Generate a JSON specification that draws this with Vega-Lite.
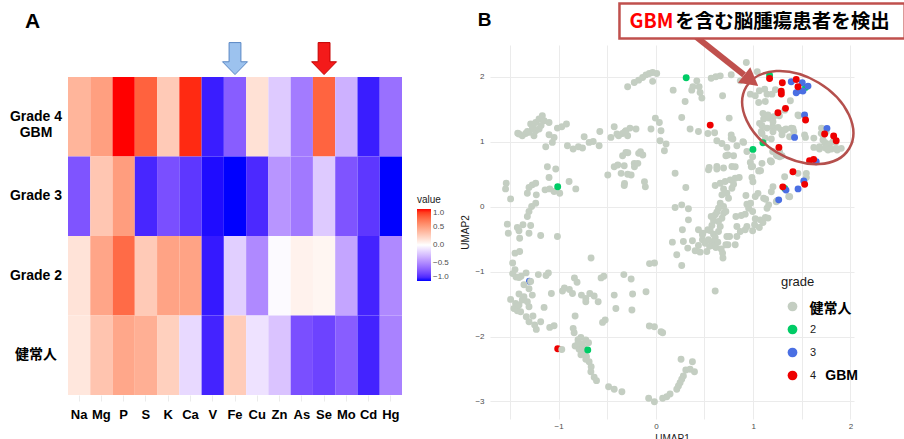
{
  "$schema": "https://vega.github.io/schema/vega-lite/v6.json",
  "background": "white",
  "padding": {"left": 9, "top": 2, "right": 0, "bottom": 0},
  "config": {"view": {"stroke": null}, "font": "Liberation Sans"},
  "datasets": {
    "heat": [
      {"grade": "Grade 4 GBM", "element": "Na", "value": 0.39},
      {"grade": "Grade 4 GBM", "element": "Mg", "value": 0.5},
      {"grade": "Grade 4 GBM", "element": "P", "value": 1.0},
      {"grade": "Grade 4 GBM", "element": "S", "value": 0.78},
      {"grade": "Grade 4 GBM", "element": "K", "value": 0.28},
      {"grade": "Grade 4 GBM", "element": "Ca", "value": 0.95},
      {"grade": "Grade 4 GBM", "element": "V", "value": -0.94},
      {"grade": "Grade 4 GBM", "element": "Fe", "value": -0.69},
      {"grade": "Grade 4 GBM", "element": "Cu", "value": 0.16},
      {"grade": "Grade 4 GBM", "element": "Zn", "value": -0.22},
      {"grade": "Grade 4 GBM", "element": "As", "value": -0.56},
      {"grade": "Grade 4 GBM", "element": "Se", "value": 0.77},
      {"grade": "Grade 4 GBM", "element": "Mo", "value": -0.33},
      {"grade": "Grade 4 GBM", "element": "Cd", "value": -0.94},
      {"grade": "Grade 4 GBM", "element": "Hg", "value": -0.61},
      {"grade": "Grade 3", "element": "Na", "value": -0.73},
      {"grade": "Grade 3", "element": "Mg", "value": 0.3},
      {"grade": "Grade 3", "element": "P", "value": 0.51},
      {"grade": "Grade 3", "element": "S", "value": -0.91},
      {"grade": "Grade 3", "element": "K", "value": -0.75},
      {"grade": "Grade 3", "element": "Ca", "value": -0.85},
      {"grade": "Grade 3", "element": "V", "value": -0.98},
      {"grade": "Grade 3", "element": "Fe", "value": -1.0},
      {"grade": "Grade 3", "element": "Cu", "value": -0.9},
      {"grade": "Grade 3", "element": "Zn", "value": -0.45},
      {"grade": "Grade 3", "element": "As", "value": -0.57},
      {"grade": "Grade 3", "element": "Se", "value": -0.22},
      {"grade": "Grade 3", "element": "Mo", "value": -0.73},
      {"grade": "Grade 3", "element": "Cd", "value": -0.85},
      {"grade": "Grade 3", "element": "Hg", "value": -1.0},
      {"grade": "Grade 2", "element": "Na", "value": 0.15},
      {"grade": "Grade 2", "element": "Mg", "value": 0.47},
      {"grade": "Grade 2", "element": "P", "value": 0.74},
      {"grade": "Grade 2", "element": "S", "value": 0.28},
      {"grade": "Grade 2", "element": "K", "value": 0.48},
      {"grade": "Grade 2", "element": "Ca", "value": 0.48},
      {"grade": "Grade 2", "element": "V", "value": -0.95},
      {"grade": "Grade 2", "element": "Fe", "value": -0.2},
      {"grade": "Grade 2", "element": "Cu", "value": -0.5},
      {"grade": "Grade 2", "element": "Zn", "value": -0.02},
      {"grade": "Grade 2", "element": "As", "value": 0.07},
      {"grade": "Grade 2", "element": "Se", "value": 0.05},
      {"grade": "Grade 2", "element": "Mo", "value": -0.38},
      {"grade": "Grade 2", "element": "Cd", "value": -0.92},
      {"grade": "Grade 2", "element": "Hg", "value": -0.5},
      {"grade": "健常人", "element": "Na", "value": 0.13},
      {"grade": "健常人", "element": "Mg", "value": 0.31},
      {"grade": "健常人", "element": "P", "value": 0.46},
      {"grade": "健常人", "element": "S", "value": 0.42},
      {"grade": "健常人", "element": "K", "value": 0.25},
      {"grade": "健常人", "element": "Ca", "value": -0.16},
      {"grade": "健常人", "element": "V", "value": -0.92},
      {"grade": "健常人", "element": "Fe", "value": 0.27},
      {"grade": "健常人", "element": "Cu", "value": -0.12},
      {"grade": "健常人", "element": "Zn", "value": -0.25},
      {"grade": "健常人", "element": "As", "value": -0.75},
      {"grade": "健常人", "element": "Se", "value": -0.8},
      {"grade": "健常人", "element": "Mo", "value": -0.69},
      {"grade": "健常人", "element": "Cd", "value": -0.92},
      {"grade": "健常人", "element": "Hg", "value": -0.53}
    ],
    "umap": [
      {"u1": -1.009, "u2": -2.187, "grade": "4"},
      {"u1": -1.3, "u2": -1.148, "grade": "3"},
      {"u1": -0.29, "u2": 1.846, "grade": "健常人"},
      {"u1": -0.222, "u2": 1.913, "grade": "健常人"},
      {"u1": -0.177, "u2": 1.949, "grade": "健常人"},
      {"u1": -0.136, "u2": 1.99, "grade": "健常人"},
      {"u1": -0.101, "u2": 2.03, "grade": "健常人"},
      {"u1": -0.067, "u2": 2.05, "grade": "健常人"},
      {"u1": -0.033, "u2": 2.067, "grade": "健常人"},
      {"u1": 0.009, "u2": 2.05, "grade": "健常人"},
      {"u1": -0.033, "u2": 1.93, "grade": "健常人"},
      {"u1": 0.178, "u2": 1.795, "grade": "健常人"},
      {"u1": -1.407, "u2": 1.118, "grade": "健常人"},
      {"u1": -1.373, "u2": 1.092, "grade": "健常人"},
      {"u1": -1.338, "u2": 1.128, "grade": "健常人"},
      {"u1": -1.304, "u2": 1.144, "grade": "健常人"},
      {"u1": -1.27, "u2": 1.195, "grade": "健常人"},
      {"u1": -1.287, "u2": 1.272, "grade": "健常人"},
      {"u1": -1.235, "u2": 1.297, "grade": "健常人"},
      {"u1": -1.201, "u2": 1.349, "grade": "健常人"},
      {"u1": -1.167, "u2": 1.4, "grade": "健常人"},
      {"u1": -1.149, "u2": 1.323, "grade": "健常人"},
      {"u1": -1.235, "u2": 1.169, "grade": "健常人"},
      {"u1": -1.253, "u2": 1.092, "grade": "健常人"},
      {"u1": -1.2, "u2": 1.195, "grade": "健常人"},
      {"u1": -1.098, "u2": 1.297, "grade": "健常人"},
      {"u1": -1.098, "u2": 1.108, "grade": "健常人"},
      {"u1": -1.046, "u2": 1.067, "grade": "健常人"},
      {"u1": -1.132, "u2": 0.923, "grade": "健常人"},
      {"u1": -1.064, "u2": 0.99, "grade": "健常人"},
      {"u1": -1.012, "u2": 1.21, "grade": "健常人"},
      {"u1": -0.967, "u2": 1.23, "grade": "健常人"},
      {"u1": -0.919, "u2": 1.272, "grade": "健常人"},
      {"u1": -1.42, "u2": 1.13, "grade": "健常人"},
      {"u1": -1.32, "u2": 1.16, "grade": "健常人"},
      {"u1": -1.26, "u2": 1.22, "grade": "健常人"},
      {"u1": -1.18, "u2": 1.25, "grade": "健常人"},
      {"u1": -0.909, "u2": 0.938, "grade": "健常人"},
      {"u1": -0.85, "u2": 0.887, "grade": "健常人"},
      {"u1": -0.796, "u2": 0.923, "grade": "健常人"},
      {"u1": -0.754, "u2": 0.903, "grade": "健常人"},
      {"u1": -0.737, "u2": 1.077, "grade": "健常人"},
      {"u1": -0.686, "u2": 0.99, "grade": "健常人"},
      {"u1": -0.644, "u2": 1.005, "grade": "健常人"},
      {"u1": -0.583, "u2": 0.938, "grade": "健常人"},
      {"u1": -0.576, "u2": 1.159, "grade": "健常人"},
      {"u1": -0.462, "u2": 1.067, "grade": "健常人"},
      {"u1": -0.428, "u2": 1.231, "grade": "健常人"},
      {"u1": -0.383, "u2": 1.092, "grade": "健常人"},
      {"u1": -0.342, "u2": 1.128, "grade": "健常人"},
      {"u1": -0.308, "u2": 1.169, "grade": "健常人"},
      {"u1": -0.266, "u2": 1.21, "grade": "健常人"},
      {"u1": -0.29, "u2": 1.092, "grade": "健常人"},
      {"u1": -0.204, "u2": 1.195, "grade": "健常人"},
      {"u1": -0.05, "u2": 1.195, "grade": "健常人"},
      {"u1": -0.005, "u2": 1.364, "grade": "健常人"},
      {"u1": 0.036, "u2": 1.297, "grade": "健常人"},
      {"u1": 0.053, "u2": 1.169, "grade": "健常人"},
      {"u1": 0.043, "u2": 1.015, "grade": "健常人"},
      {"u1": 0.105, "u2": 0.964, "grade": "健常人"},
      {"u1": 0.088, "u2": 0.862, "grade": "健常人"},
      {"u1": -0.4, "u2": 1.12, "grade": "健常人"},
      {"u1": -0.32, "u2": 1.15, "grade": "健常人"},
      {"u1": -0.342, "u2": 0.785, "grade": "健常人"},
      {"u1": -0.308, "u2": 0.836, "grade": "健常人"},
      {"u1": -0.177, "u2": 0.821, "grade": "健常人"},
      {"u1": -0.222, "u2": 0.667, "grade": "健常人"},
      {"u1": -0.428, "u2": 0.615, "grade": "健常人"},
      {"u1": -0.325, "u2": 0.631, "grade": "健常人"},
      {"u1": -1.115, "u2": 0.615, "grade": "健常人"},
      {"u1": -1.029, "u2": 0.579, "grade": "健常人"},
      {"u1": -0.494, "u2": 0.487, "grade": "健常人"},
      {"u1": -0.391, "u2": 0.641, "grade": "健常人"},
      {"u1": -0.357, "u2": 0.513, "grade": "健常人"},
      {"u1": -0.322, "u2": 0.359, "grade": "健常人"},
      {"u1": -0.254, "u2": 0.487, "grade": "健常人"},
      {"u1": -0.22, "u2": 0.615, "grade": "健常人"},
      {"u1": -0.185, "u2": 0.667, "grade": "健常人"},
      {"u1": -0.134, "u2": 0.795, "grade": "健常人"},
      {"u1": -0.117, "u2": 0.385, "grade": "健常人"},
      {"u1": -0.288, "u2": 0.831, "grade": "健常人"},
      {"u1": -0.158, "u2": 0.846, "grade": "健常人"},
      {"u1": -0.325, "u2": 0.326, "grade": "健常人"},
      {"u1": -0.108, "u2": 0.305, "grade": "健常人"},
      {"u1": -0.29, "u2": 0.5, "grade": "健常人"},
      {"u1": -1.098, "u2": 0.449, "grade": "健常人"},
      {"u1": -0.892, "u2": 0.387, "grade": "健常人"},
      {"u1": -0.823, "u2": 0.274, "grade": "健常人"},
      {"u1": -1.538, "u2": 0.362, "grade": "健常人"},
      {"u1": -1.545, "u2": 0.274, "grade": "健常人"},
      {"u1": -1.493, "u2": 0.12, "grade": "健常人"},
      {"u1": -1.304, "u2": 0.295, "grade": "健常人"},
      {"u1": -1.27, "u2": 0.336, "grade": "健常人"},
      {"u1": -1.235, "u2": 0.362, "grade": "健常人"},
      {"u1": -1.321, "u2": 0.208, "grade": "健常人"},
      {"u1": -1.229, "u2": 0.182, "grade": "健常人"},
      {"u1": -1.139, "u2": 0.259, "grade": "健常人"},
      {"u1": -1.091, "u2": 0.274, "grade": "健常人"},
      {"u1": -1.046, "u2": 0.233, "grade": "健常人"},
      {"u1": -0.988, "u2": 0.208, "grade": "健常人"},
      {"u1": -1.277, "u2": 0.003, "grade": "健常人"},
      {"u1": -1.235, "u2": 0.054, "grade": "健常人"},
      {"u1": -1.304, "u2": -0.074, "grade": "健常人"},
      {"u1": -1.321, "u2": -0.151, "grade": "健常人"},
      {"u1": -1.527, "u2": -0.269, "grade": "健常人"},
      {"u1": -1.424, "u2": -0.321, "grade": "健常人"},
      {"u1": -1.366, "u2": -0.279, "grade": "健常人"},
      {"u1": -1.287, "u2": -0.29, "grade": "健常人"},
      {"u1": -1.517, "u2": -0.408, "grade": "健常人"},
      {"u1": -1.407, "u2": -0.372, "grade": "健常人"},
      {"u1": -1.4, "u2": -0.485, "grade": "健常人"},
      {"u1": -1.304, "u2": -0.408, "grade": "健常人"},
      {"u1": -1.184, "u2": -0.444, "grade": "健常人"},
      {"u1": -1.012, "u2": -0.459, "grade": "健常人"},
      {"u1": -1.448, "u2": -0.715, "grade": "健常人"},
      {"u1": -1.4, "u2": -0.69, "grade": "健常人"},
      {"u1": -1.472, "u2": -0.867, "grade": "健常人"},
      {"u1": -1.448, "u2": -0.969, "grade": "健常人"},
      {"u1": -1.472, "u2": -1.031, "grade": "健常人"},
      {"u1": -1.437, "u2": -1.082, "grade": "健常人"},
      {"u1": -1.386, "u2": -1.072, "grade": "健常人"},
      {"u1": -1.334, "u2": -1.02, "grade": "健常人"},
      {"u1": -1.208, "u2": -1.046, "grade": "健常人"},
      {"u1": -1.129, "u2": -1.061, "grade": "健常人"},
      {"u1": -1.105, "u2": -1.02, "grade": "健常人"},
      {"u1": -0.94, "u2": -1.251, "grade": "健常人"},
      {"u1": -0.889, "u2": -1.276, "grade": "健常人"},
      {"u1": -0.837, "u2": -1.097, "grade": "健常人"},
      {"u1": -0.81, "u2": -1.164, "grade": "健常人"},
      {"u1": -0.666, "u2": -0.79, "grade": "健常人"},
      {"u1": -0.563, "u2": -1.097, "grade": "健常人"},
      {"u1": -0.535, "u2": -1.072, "grade": "健常人"},
      {"u1": -0.329, "u2": -1.046, "grade": "健常人"},
      {"u1": -0.254, "u2": -1.113, "grade": "健常人"},
      {"u1": -0.065, "u2": -0.877, "grade": "健常人"},
      {"u1": -0.014, "u2": -0.867, "grade": "健常人"},
      {"u1": -1.356, "u2": -1.203, "grade": "健常人"},
      {"u1": -1.287, "u2": -1.151, "grade": "健常人"},
      {"u1": -1.304, "u2": -1.264, "grade": "健常人"},
      {"u1": -1.407, "u2": -1.09, "grade": "健常人"},
      {"u1": -1.493, "u2": -1.428, "grade": "健常人"},
      {"u1": -1.442, "u2": -1.49, "grade": "健常人"},
      {"u1": -1.459, "u2": -1.567, "grade": "健常人"},
      {"u1": -1.424, "u2": -1.603, "grade": "健常人"},
      {"u1": -1.39, "u2": -1.618, "grade": "健常人"},
      {"u1": -1.407, "u2": -1.515, "grade": "健常人"},
      {"u1": -1.373, "u2": -1.438, "grade": "健常人"},
      {"u1": -1.407, "u2": -1.346, "grade": "健常人"},
      {"u1": -1.356, "u2": -1.387, "grade": "健常人"},
      {"u1": -1.321, "u2": -1.464, "grade": "健常人"},
      {"u1": -1.304, "u2": -1.541, "grade": "健常人"},
      {"u1": -1.332, "u2": -1.695, "grade": "健常人"},
      {"u1": -1.304, "u2": -1.772, "grade": "健常人"},
      {"u1": -1.263, "u2": -1.685, "grade": "健常人"},
      {"u1": -1.229, "u2": -1.89, "grade": "健常人"},
      {"u1": -1.246, "u2": -1.823, "grade": "健常人"},
      {"u1": -1.184, "u2": -1.772, "grade": "健常人"},
      {"u1": -1.149, "u2": -1.551, "grade": "健常人"},
      {"u1": -1.091, "u2": -1.859, "grade": "健常人"},
      {"u1": -1.046, "u2": -1.833, "grade": "健常人"},
      {"u1": -1.27, "u2": -1.362, "grade": "健常人"},
      {"u1": -1.074, "u2": -1.336, "grade": "健常人"},
      {"u1": -0.96, "u2": -1.3, "grade": "健常人"},
      {"u1": -0.857, "u2": -1.336, "grade": "健常人"},
      {"u1": -0.765, "u2": -1.362, "grade": "健常人"},
      {"u1": -0.72, "u2": -1.413, "grade": "健常人"},
      {"u1": -0.679, "u2": -1.336, "grade": "健常人"},
      {"u1": -0.634, "u2": -1.377, "grade": "健常人"},
      {"u1": -0.72, "u2": -1.464, "grade": "健常人"},
      {"u1": -0.593, "u2": -1.464, "grade": "健常人"},
      {"u1": -0.428, "u2": -1.362, "grade": "健常人"},
      {"u1": -0.411, "u2": -1.567, "grade": "健常人"},
      {"u1": -0.239, "u2": -1.346, "grade": "健常人"},
      {"u1": -0.246, "u2": -1.592, "grade": "健常人"},
      {"u1": -0.101, "u2": -1.31, "grade": "健常人"},
      {"u1": -0.83, "u2": -1.685, "grade": "健常人"},
      {"u1": -0.85, "u2": -1.874, "grade": "健常人"},
      {"u1": -0.84, "u2": -1.941, "grade": "健常人"},
      {"u1": -0.771, "u2": -2.013, "grade": "健常人"},
      {"u1": -0.72, "u2": -2.054, "grade": "健常人"},
      {"u1": -0.692, "u2": -2.095, "grade": "健常人"},
      {"u1": -0.83, "u2": -2.146, "grade": "健常人"},
      {"u1": -0.789, "u2": -2.197, "grade": "健常人"},
      {"u1": -0.747, "u2": -2.259, "grade": "健常人"},
      {"u1": -0.713, "u2": -2.31, "grade": "健常人"},
      {"u1": -0.686, "u2": -2.387, "grade": "健常人"},
      {"u1": -0.665, "u2": -2.464, "grade": "健常人"},
      {"u1": -0.668, "u2": -2.541, "grade": "健常人"},
      {"u1": -0.634, "u2": -2.628, "grade": "健常人"},
      {"u1": -0.61, "u2": -2.679, "grade": "健常人"},
      {"u1": -0.486, "u2": -2.772, "grade": "健常人"},
      {"u1": -0.428, "u2": -2.813, "grade": "健常人"},
      {"u1": -0.349, "u2": -2.849, "grade": "健常人"},
      {"u1": -0.548, "u2": -1.782, "grade": "健常人"},
      {"u1": -0.521, "u2": -1.746, "grade": "健常人"},
      {"u1": -0.967, "u2": -2.2, "grade": "健常人"},
      {"u1": -0.067, "u2": -1.838, "grade": "健常人"},
      {"u1": -0.015, "u2": -1.849, "grade": "健常人"},
      {"u1": 0.053, "u2": -1.926, "grade": "健常人"},
      {"u1": 0.07, "u2": -1.941, "grade": "健常人"},
      {"u1": -0.074, "u2": -2.951, "grade": "健常人"},
      {"u1": -0.015, "u2": -3.003, "grade": "健常人"},
      {"u1": 0.07, "u2": -2.951, "grade": "健常人"},
      {"u1": -0.8, "u2": -2.05, "grade": "健常人"},
      {"u1": -0.76, "u2": -2.12, "grade": "健常人"},
      {"u1": -0.74, "u2": -2.17, "grade": "健常人"},
      {"u1": -0.77, "u2": -2.28, "grade": "健常人"},
      {"u1": -0.72, "u2": -2.35, "grade": "健常人"},
      {"u1": -0.8, "u2": -2.1, "grade": "健常人"},
      {"u1": 0.61, "u2": -1.3, "grade": "健常人"},
      {"u1": 0.259, "u2": -2.351, "grade": "健常人"},
      {"u1": 0.376, "u2": -2.387, "grade": "健常人"},
      {"u1": 0.308, "u2": -2.515, "grade": "健常人"},
      {"u1": 0.352, "u2": -2.505, "grade": "健常人"},
      {"u1": 0.397, "u2": -2.541, "grade": "健常人"},
      {"u1": 0.283, "u2": -2.608, "grade": "健常人"},
      {"u1": 0.266, "u2": -2.659, "grade": "健常人"},
      {"u1": 0.249, "u2": -2.71, "grade": "健常人"},
      {"u1": 0.232, "u2": -2.762, "grade": "健常人"},
      {"u1": 0.215, "u2": -2.813, "grade": "健常人"},
      {"u1": 0.146, "u2": -2.885, "grade": "健常人"},
      {"u1": 0.112, "u2": -2.926, "grade": "健常人"},
      {"u1": 0.198, "u2": 0.515, "grade": "健常人"},
      {"u1": 0.308, "u2": 0.295, "grade": "健常人"},
      {"u1": 0.541, "u2": 0.567, "grade": "健常人"},
      {"u1": 0.627, "u2": 0.618, "grade": "健常人"},
      {"u1": 0.782, "u2": 0.618, "grade": "健常人"},
      {"u1": 0.995, "u2": 0.618, "grade": "健常人"},
      {"u1": 1.057, "u2": 0.551, "grade": "健常人"},
      {"u1": 0.988, "u2": 0.449, "grade": "健常人"},
      {"u1": 0.61, "u2": 0.326, "grade": "健常人"},
      {"u1": 0.662, "u2": 0.362, "grade": "健常人"},
      {"u1": 0.713, "u2": 0.387, "grade": "健常人"},
      {"u1": 0.765, "u2": 0.413, "grade": "健常人"},
      {"u1": 0.816, "u2": 0.438, "grade": "健常人"},
      {"u1": 0.857, "u2": 0.449, "grade": "健常人"},
      {"u1": 0.696, "u2": 0.274, "grade": "健常人"},
      {"u1": 0.679, "u2": 0.182, "grade": "健常人"},
      {"u1": 0.782, "u2": 0.285, "grade": "健常人"},
      {"u1": 0.799, "u2": 0.346, "grade": "健常人"},
      {"u1": 0.73, "u2": 0.208, "grade": "健常人"},
      {"u1": 0.747, "u2": 0.131, "grade": "健常人"},
      {"u1": 0.662, "u2": 0.054, "grade": "健常人"},
      {"u1": 0.696, "u2": 0.003, "grade": "健常人"},
      {"u1": 0.644, "u2": -0.023, "grade": "健常人"},
      {"u1": 0.627, "u2": -0.085, "grade": "健常人"},
      {"u1": 0.61, "u2": -0.126, "grade": "健常人"},
      {"u1": 0.569, "u2": -0.151, "grade": "健常人"},
      {"u1": 0.593, "u2": -0.218, "grade": "健常人"},
      {"u1": 0.576, "u2": -0.29, "grade": "健常人"},
      {"u1": 0.558, "u2": -0.367, "grade": "健常人"},
      {"u1": 0.593, "u2": -0.423, "grade": "健常人"},
      {"u1": 0.61, "u2": -0.474, "grade": "健常人"},
      {"u1": 0.593, "u2": -0.536, "grade": "健常人"},
      {"u1": 0.576, "u2": -0.597, "grade": "健常人"},
      {"u1": 0.617, "u2": -0.628, "grade": "健常人"},
      {"u1": 0.637, "u2": -0.546, "grade": "健常人"},
      {"u1": 0.644, "u2": -0.382, "grade": "健常人"},
      {"u1": 0.662, "u2": -0.305, "grade": "健常人"},
      {"u1": 0.644, "u2": -0.228, "grade": "健常人"},
      {"u1": 0.679, "u2": -0.177, "grade": "健常人"},
      {"u1": 0.696, "u2": -0.1, "grade": "健常人"},
      {"u1": 0.72, "u2": -0.074, "grade": "健常人"},
      {"u1": 0.823, "u2": -0.151, "grade": "健常人"},
      {"u1": 0.878, "u2": -0.136, "grade": "健常人"},
      {"u1": 0.919, "u2": -0.115, "grade": "健常人"},
      {"u1": 0.936, "u2": 0.038, "grade": "健常人"},
      {"u1": 0.954, "u2": -0.023, "grade": "健常人"},
      {"u1": 0.974, "u2": 0.054, "grade": "健常人"},
      {"u1": 0.995, "u2": -0.074, "grade": "健常人"},
      {"u1": 1.022, "u2": -0.187, "grade": "健常人"},
      {"u1": 1.074, "u2": -0.203, "grade": "健常人"},
      {"u1": 1.125, "u2": -0.167, "grade": "健常人"},
      {"u1": 0.936, "u2": -0.305, "grade": "健常人"},
      {"u1": 0.833, "u2": -0.305, "grade": "健常人"},
      {"u1": 0.868, "u2": -0.382, "grade": "健常人"},
      {"u1": 0.995, "u2": -0.372, "grade": "健常人"},
      {"u1": 0.919, "u2": -0.356, "grade": "健常人"},
      {"u1": 1.015, "u2": -0.279, "grade": "健常人"},
      {"u1": 1.064, "u2": -0.321, "grade": "健常人"},
      {"u1": 1.143, "u2": -0.023, "grade": "健常人"},
      {"u1": 1.16, "u2": 0.028, "grade": "健常人"},
      {"u1": 1.246, "u2": 0.09, "grade": "健常人"},
      {"u1": 1.366, "u2": 0.156, "grade": "健常人"},
      {"u1": 1.108, "u2": 0.131, "grade": "健常人"},
      {"u1": 0.926, "u2": 0.172, "grade": "健常人"},
      {"u1": 1.022, "u2": 0.156, "grade": "健常人"},
      {"u1": 0.833, "u2": -0.459, "grade": "健常人"},
      {"u1": 0.816, "u2": -0.587, "grade": "健常人"},
      {"u1": 0.73, "u2": -0.459, "grade": "健常人"},
      {"u1": 0.72, "u2": -0.587, "grade": "健常人"},
      {"u1": 0.686, "u2": -0.715, "grade": "健常人"},
      {"u1": 0.479, "u2": -0.51, "grade": "健常人"},
      {"u1": 0.507, "u2": -0.562, "grade": "健常人"},
      {"u1": 0.438, "u2": -0.597, "grade": "健常人"},
      {"u1": 0.404, "u2": -0.679, "grade": "健常人"},
      {"u1": 0.455, "u2": -0.7, "grade": "健常人"},
      {"u1": 0.524, "u2": -0.69, "grade": "健常人"},
      {"u1": 0.541, "u2": -0.51, "grade": "健常人"},
      {"u1": 0.438, "u2": -0.356, "grade": "健常人"},
      {"u1": 0.479, "u2": -0.433, "grade": "健常人"},
      {"u1": 0.335, "u2": -0.203, "grade": "健常人"},
      {"u1": 0.266, "u2": 0.028, "grade": "健常人"},
      {"u1": 0.198, "u2": -0.013, "grade": "健常人"},
      {"u1": 0.335, "u2": -0.033, "grade": "健常人"},
      {"u1": 0.273, "u2": -0.356, "grade": "健常人"},
      {"u1": 0.283, "u2": -0.536, "grade": "健常人"},
      {"u1": 0.328, "u2": -0.638, "grade": "健常人"},
      {"u1": 0.376, "u2": -0.526, "grade": "健常人"},
      {"u1": 0.17, "u2": -0.546, "grade": "健常人"},
      {"u1": 0.215, "u2": -0.741, "grade": "健常人"},
      {"u1": 0.266, "u2": -0.905, "grade": "健常人"},
      {"u1": 0.484, "u2": -0.407, "grade": "健常人"},
      {"u1": 0.535, "u2": -0.355, "grade": "健常人"},
      {"u1": 0.69, "u2": -0.79, "grade": "健常人"},
      {"u1": 0.741, "u2": -0.586, "grade": "健常人"},
      {"u1": 0.758, "u2": -0.458, "grade": "健常人"},
      {"u1": 1.101, "u2": -0.243, "grade": "健常人"},
      {"u1": 1.153, "u2": -0.176, "grade": "健常人"},
      {"u1": 0.552, "u2": -0.611, "grade": "健常人"},
      {"u1": 0.672, "u2": -0.652, "grade": "健常人"},
      {"u1": 0.421, "u2": 1.938, "grade": "健常人"},
      {"u1": 0.445, "u2": 1.846, "grade": "健常人"},
      {"u1": 0.455, "u2": 1.759, "grade": "健常人"},
      {"u1": 0.473, "u2": 1.672, "grade": "健常人"},
      {"u1": 0.369, "u2": 1.795, "grade": "健常人"},
      {"u1": 0.301, "u2": 1.621, "grade": "健常人"},
      {"u1": 0.569, "u2": 1.979, "grade": "健常人"},
      {"u1": 0.617, "u2": 2.0, "grade": "健常人"},
      {"u1": 0.662, "u2": 2.015, "grade": "健常人"},
      {"u1": 0.686, "u2": 1.708, "grade": "健常人"},
      {"u1": 0.775, "u2": 2.031, "grade": "健常人"},
      {"u1": 0.93, "u2": 2.221, "grade": "健常人"},
      {"u1": 0.868, "u2": 1.938, "grade": "健常人"},
      {"u1": 0.381, "u2": 1.846, "grade": "健常人"},
      {"u1": 1.043, "u2": 2.077, "grade": "健常人"},
      {"u1": 0.266, "u2": 1.374, "grade": "健常人"},
      {"u1": 0.352, "u2": 1.195, "grade": "健常人"},
      {"u1": 0.438, "u2": 1.159, "grade": "健常人"},
      {"u1": 0.627, "u2": 1.015, "grade": "健常人"},
      {"u1": 0.679, "u2": 0.974, "grade": "健常人"},
      {"u1": 0.73, "u2": 0.913, "grade": "健常人"},
      {"u1": 0.792, "u2": 1.041, "grade": "健常人"},
      {"u1": 0.754, "u2": 1.364, "grade": "健常人"},
      {"u1": 0.833, "u2": 0.938, "grade": "健常人"},
      {"u1": 0.72, "u2": 0.785, "grade": "健常人"},
      {"u1": 0.799, "u2": 0.785, "grade": "健常人"},
      {"u1": 0.902, "u2": 0.99, "grade": "健常人"},
      {"u1": 0.936, "u2": 0.851, "grade": "健常人"},
      {"u1": 0.995, "u2": 0.769, "grade": "健常人"},
      {"u1": 0.971, "u2": 0.682, "grade": "健常人"},
      {"u1": 0.981, "u2": 0.615, "grade": "健常人"},
      {"u1": 0.627, "u2": 0.579, "grade": "健常人"},
      {"u1": 0.548, "u2": 0.605, "grade": "健常人"},
      {"u1": 0.696, "u2": 0.595, "grade": "健常人"},
      {"u1": 0.816, "u2": 0.615, "grade": "健常人"},
      {"u1": 0.775, "u2": 1.103, "grade": "健常人"},
      {"u1": 0.535, "u2": 1.128, "grade": "健常人"},
      {"u1": 0.604, "u2": 1.138, "grade": "健常人"},
      {"u1": 0.775, "u2": 1.052, "grade": "健常人"},
      {"u1": 0.895, "u2": 1.0, "grade": "健常人"},
      {"u1": 0.741, "u2": 0.795, "grade": "健常人"},
      {"u1": 0.971, "u2": 1.733, "grade": "健常人"},
      {"u1": 1.022, "u2": 1.708, "grade": "健常人"},
      {"u1": 1.064, "u2": 1.785, "grade": "健常人"},
      {"u1": 1.119, "u2": 1.81, "grade": "健常人"},
      {"u1": 1.143, "u2": 1.733, "grade": "健常人"},
      {"u1": 1.057, "u2": 1.605, "grade": "健常人"},
      {"u1": 1.125, "u2": 1.621, "grade": "健常人"},
      {"u1": 1.194, "u2": 1.733, "grade": "健常人"},
      {"u1": 1.229, "u2": 1.8, "grade": "健常人"},
      {"u1": 1.383, "u2": 1.631, "grade": "健常人"},
      {"u1": 1.325, "u2": 1.487, "grade": "健常人"},
      {"u1": 1.27, "u2": 1.4, "grade": "健常人"},
      {"u1": 1.108, "u2": 1.349, "grade": "健常人"},
      {"u1": 1.16, "u2": 1.364, "grade": "健常人"},
      {"u1": 1.211, "u2": 1.385, "grade": "健常人"},
      {"u1": 1.091, "u2": 1.246, "grade": "健常人"},
      {"u1": 1.143, "u2": 1.21, "grade": "健常人"},
      {"u1": 1.201, "u2": 1.231, "grade": "健常人"},
      {"u1": 1.256, "u2": 1.221, "grade": "健常人"},
      {"u1": 1.29, "u2": 1.179, "grade": "健常人"},
      {"u1": 1.338, "u2": 1.195, "grade": "健常人"},
      {"u1": 1.393, "u2": 1.21, "grade": "健常人"},
      {"u1": 1.418, "u2": 1.159, "grade": "健常人"},
      {"u1": 1.297, "u2": 1.108, "grade": "健常人"},
      {"u1": 1.091, "u2": 1.128, "grade": "健常人"},
      {"u1": 1.125, "u2": 1.056, "grade": "健常人"},
      {"u1": 1.187, "u2": 1.041, "grade": "健常人"},
      {"u1": 1.469, "u2": 1.4, "grade": "健常人"},
      {"u1": 1.538, "u2": 1.067, "grade": "健常人"},
      {"u1": 1.624, "u2": 1.056, "grade": "健常人"},
      {"u1": 1.703, "u2": 1.21, "grade": "健常人"},
      {"u1": 1.717, "u2": 1.108, "grade": "健常人"},
      {"u1": 1.737, "u2": 0.99, "grade": "健常人"},
      {"u1": 1.785, "u2": 0.964, "grade": "健常人"},
      {"u1": 1.847, "u2": 0.99, "grade": "健常人"},
      {"u1": 1.864, "u2": 0.872, "grade": "健常人"},
      {"u1": 1.806, "u2": 0.887, "grade": "健常人"},
      {"u1": 1.744, "u2": 0.903, "grade": "健常人"},
      {"u1": 1.682, "u2": 0.887, "grade": "健常人"},
      {"u1": 1.624, "u2": 0.913, "grade": "健常人"},
      {"u1": 1.201, "u2": 0.851, "grade": "健常人"},
      {"u1": 1.246, "u2": 0.785, "grade": "健常人"},
      {"u1": 1.297, "u2": 0.785, "grade": "健常人"},
      {"u1": 1.177, "u2": 0.708, "grade": "健常人"},
      {"u1": 1.091, "u2": 0.667, "grade": "健常人"},
      {"u1": 1.152, "u2": 1.411, "grade": "健常人"},
      {"u1": 1.101, "u2": 1.437, "grade": "健常人"},
      {"u1": 1.204, "u2": 1.308, "grade": "健常人"},
      {"u1": 1.066, "u2": 1.283, "grade": "健常人"},
      {"u1": 1.083, "u2": 1.154, "grade": "健常人"},
      {"u1": 1.204, "u2": 1.154, "grade": "健常人"},
      {"u1": 1.323, "u2": 1.18, "grade": "健常人"},
      {"u1": 1.375, "u2": 1.077, "grade": "健常人"},
      {"u1": 1.409, "u2": 1.206, "grade": "健常人"},
      {"u1": 1.752, "u2": 1.154, "grade": "健常人"},
      {"u1": 1.7, "u2": 1.129, "grade": "健常人"},
      {"u1": 1.718, "u2": 1.026, "grade": "健常人"},
      {"u1": 1.683, "u2": 0.923, "grade": "健常人"},
      {"u1": 1.821, "u2": 1.0, "grade": "健常人"},
      {"u1": 1.855, "u2": 0.898, "grade": "健常人"},
      {"u1": 1.906, "u2": 0.898, "grade": "健常人"},
      {"u1": 1.77, "u2": 0.872, "grade": "健常人"},
      {"u1": 1.529, "u2": 1.103, "grade": "健常人"},
      {"u1": 1.461, "u2": 1.411, "grade": "健常人"},
      {"u1": 1.238, "u2": 0.795, "grade": "健常人"},
      {"u1": 1.272, "u2": 0.846, "grade": "健常人"},
      {"u1": 1.186, "u2": 0.692, "grade": "健常人"},
      {"u1": 1.066, "u2": 0.554, "grade": "健常人"},
      {"u1": 0.998, "u2": 0.385, "grade": "健常人"},
      {"u1": 1.05, "u2": 0.205, "grade": "健常人"},
      {"u1": 1.187, "u2": 0.231, "grade": "健常人"},
      {"u1": 1.077, "u2": 0.554, "grade": "健常人"},
      {"u1": 1.187, "u2": 0.692, "grade": "健常人"},
      {"u1": 1.273, "u2": 0.769, "grade": "健常人"},
      {"u1": 1.324, "u2": 0.462, "grade": "健常人"},
      {"u1": 1.547, "u2": 0.451, "grade": "健常人"},
      {"u1": 1.376, "u2": 0.154, "grade": "健常人"},
      {"u1": 1.238, "u2": 0.077, "grade": "健常人"},
      {"u1": 1.129, "u2": 0.113, "grade": "健常人"},
      {"u1": 1.204, "u2": 0.308, "grade": "健常人"},
      {"u1": 1.461, "u2": 0.513, "grade": "健常人"},
      {"u1": 1.547, "u2": 0.513, "grade": "健常人"},
      {"u1": 0.312, "u2": 1.985, "grade": "2"},
      {"u1": 1.169, "u2": 2.026, "grade": "2"},
      {"u1": 1.539, "u2": 1.837, "grade": "2"},
      {"u1": 0.998, "u2": 0.882, "grade": "2"},
      {"u1": 1.101, "u2": 0.985, "grade": "2"},
      {"u1": -1.009, "u2": 0.308, "grade": "2"},
      {"u1": 1.325, "u2": 0.28, "grade": "2"},
      {"u1": -0.7, "u2": -2.207, "grade": "2"},
      {"u1": 1.392, "u2": 1.923, "grade": "3"},
      {"u1": 1.505, "u2": 1.908, "grade": "3"},
      {"u1": 1.564, "u2": 1.857, "grade": "3"},
      {"u1": 1.512, "u2": 1.78, "grade": "3"},
      {"u1": 1.443, "u2": 1.754, "grade": "3"},
      {"u1": 1.475, "u2": 1.79, "grade": "3"},
      {"u1": 1.529, "u2": 1.411, "grade": "3"},
      {"u1": 1.426, "u2": 1.067, "grade": "3"},
      {"u1": 1.759, "u2": 1.206, "grade": "3"},
      {"u1": 1.649, "u2": 0.692, "grade": "3"},
      {"u1": 1.338, "u2": 0.255, "grade": "3"},
      {"u1": 1.462, "u2": 0.274, "grade": "3"},
      {"u1": 1.521, "u2": 0.397, "grade": "3"},
      {"u1": 1.263, "u2": 0.105, "grade": "3"},
      {"u1": 1.169, "u2": 1.975, "grade": "4"},
      {"u1": 1.3, "u2": 1.908, "grade": "4"},
      {"u1": 1.443, "u2": 1.96, "grade": "4"},
      {"u1": 1.461, "u2": 1.846, "grade": "4"},
      {"u1": 1.289, "u2": 1.779, "grade": "4"},
      {"u1": 1.29, "u2": 1.735, "grade": "4"},
      {"u1": 1.333, "u2": 1.514, "grade": "4"},
      {"u1": 1.255, "u2": 1.446, "grade": "4"},
      {"u1": 1.539, "u2": 1.334, "grade": "4"},
      {"u1": 1.735, "u2": 1.118, "grade": "4"},
      {"u1": 1.828, "u2": 1.088, "grade": "4"},
      {"u1": 1.854, "u2": 1.015, "grade": "4"},
      {"u1": 1.265, "u2": 0.913, "grade": "4"},
      {"u1": 1.58, "u2": 0.708, "grade": "4"},
      {"u1": 1.622, "u2": 0.729, "grade": "4"},
      {"u1": 0.559, "u2": 1.256, "grade": "4"},
      {"u1": 1.409, "u2": 0.538, "grade": "4"},
      {"u1": 1.53, "u2": 0.344, "grade": "4"},
      {"u1": 1.305, "u2": 0.305, "grade": "4"}
    ]
  },
  "concat": [
    {
      "vconcat": [
        {
          "width": 334,
          "height": 31,
          "title": {"text": "A", "anchor": "start", "frame": "group", "dx": -43, "fontSize": 21, "fontWeight": "bold", "color": "black", "offset": 8.9, "font": "Liberation Sans"},
          "data": {"values": [{"element": "Fe", "change": "decrease"}, {"element": "Se", "change": "increase"}]},
          "mark": {"type": "point", "shape": "M -0.37 -1.12 L 0.37 -1.12 L 0.37 0.08 L 0.78 0.08 L 0 0.88 L -0.78 0.08 L -0.37 0.08 Z", "size": 1024, "filled": true, "opacity": 1, "strokeWidth": 1},
          "encoding": {
            "x": {"field": "element", "type": "nominal", "scale": {"type": "point", "domain": ["Na", "Mg", "P", "S", "K", "Ca", "V", "Fe", "Cu", "Zn", "As", "Se", "Mo", "Cd", "Hg"], "padding": 0.5}, "axis": null},
            "fill": {"field": "change", "type": "nominal", "scale": {"domain": ["decrease", "increase"], "range": ["#9CC2EE", "#F41A1A"]}, "legend": null},
            "stroke": {"field": "change", "type": "nominal", "scale": {"domain": ["decrease", "increase"], "range": ["#5A87C4", "#C40000"]}, "legend": null}
          }
        },
        {
          "width": 334,
          "height": 318,
          "data": {"name": "heat"},
          "mark": {"type": "rect"},
          "encoding": {
            "x": {"field": "element", "type": "nominal", "sort": ["Na", "Mg", "P", "S", "K", "Ca", "V", "Fe", "Cu", "Zn", "As", "Se", "Mo", "Cd", "Hg"], "scale": {"paddingInner": 0, "paddingOuter": 0},
              "axis": {"title": null, "orient": "bottom", "labelAngle": 0, "labelFontSize": 13, "labelFontWeight": "bold", "labelColor": "black", "labelPadding": 7, "tickColor": "#EBEBEB", "tickSize": 6, "domain": false, "grid": false, "labelFont": "Liberation Sans"}},
            "y": {"field": "grade", "type": "nominal", "sort": ["Grade 4 GBM", "Grade 3", "Grade 2", "健常人"], "scale": {"paddingInner": 0, "paddingOuter": 0},
              "axis": {"title": null, "labelAlign": "center", "labelBaseline": "middle", "labelFontSize": 14, "labelFontWeight": "bold", "labelColor": "black", "labelPadding": 32.5, "ticks": false, "domain": false, "grid": false, "labelLineHeight": 16, "labelFont": "Liberation Sans, Noto Sans CJK JP", "labelExpr": "datum.value == 'Grade 4 GBM' ? ['Grade 4', 'GBM'] : datum.value"}},
            "color": {"field": "value", "type": "quantitative", "scale": {"domain": [-1, 0, 1], "range": ["#0000FF", "#FFFFFF", "#FF0000"], "interpolate": "lab"},
              "legend": {"orient": "none", "legendX": 349, "legendY": 118, "title": "value", "titleFontSize": 10, "titleFontWeight": "normal", "titleColor": "#1A1A1A", "titlePadding": 4, "gradientLength": 72, "gradientThickness": 14, "gradientStrokeWidth": 0, "labelFontSize": 8, "labelColor": "#4D4D4D", "values": [-1, -0.5, 0, 0.5, 1], "format": ".1f", "labelOffset": 2, "labelOverlap": false, "direction": "vertical"}}
          }
        }
      ],
      "spacing": 0,
      "resolve": {"scale": {"color": "independent", "fill": "independent", "stroke": "independent"}, "legend": {"color": "independent"}}
    },
    {
      "width": 364,
      "height": 374,
      "layer": [
        {
          "data": {"name": "umap"},
          "mark": {"type": "circle", "size": 48, "opacity": 1},
          "encoding": {
            "x": {"field": "u1", "type": "quantitative", "scale": {"domain": [-1.705, 2.037], "nice": false, "zero": false},
              "axis": {"title": "UMAP1", "values": [-1.5, -1, -0.5, 0, 0.5, 1, 1.5, 2], "labelExpr": "datum.value % 1 == 0 ? format(datum.value, 'd') : ''", "grid": true, "gridColor": "#EBEBEB", "gridWidth": 1, "domain": false, "ticks": false, "labelFontSize": 8, "labelColor": "#4D4D4D", "labelPadding": 3, "labelFlush": false, "titleFontSize": 10, "titleFontWeight": "normal", "titleColor": "#1A1A1A", "titlePadding": 3}},
            "y": {"field": "u2", "type": "quantitative", "scale": {"domain": [-3.27, 2.49], "nice": false, "zero": false},
              "axis": {"title": "UMAP2", "values": [-3, -2.5, -2, -1.5, -1, -0.5, 0, 0.5, 1, 1.5, 2], "labelExpr": "datum.value % 1 == 0 ? format(datum.value, 'd') : ''", "grid": true, "gridColor": "#EBEBEB", "gridWidth": 1, "domain": false, "ticks": false, "labelFontSize": 8, "labelColor": "#4D4D4D", "labelPadding": 6, "labelFlush": false, "titleFontSize": 10, "titleFontWeight": "normal", "titleColor": "#1A1A1A", "titlePadding": 4}},
            "color": {"field": "grade", "type": "nominal", "scale": {"domain": ["健常人", "2", "3", "4"], "range": ["#C4CEC2", "#00CC66", "#4A6FE3", "#EE0000"]},
              "legend": {"orient": "none", "legendX": 291, "legendY": 231, "title": "grade", "titleFontSize": 13, "titleFontWeight": "normal", "titleColor": "#1A1A1A", "titlePadding": 12, "symbolType": "circle", "symbolSize": 95, "symbolOffset": 6, "symbolStrokeWidth": 0, "labelFontSize": 11, "labelColor": "#1A1A1A", "labelOffset": 12, "rowPadding": 11, "labelExpr": "datum.label == '健常人' ? '' : datum.label"}}
          }
        },
        {
          "data": {"values": [{}]},
          "mark": {"type": "point", "shape": "M -1 0 C -1 -0.374 -0.552 -0.677 0 -0.677 C 0.552 -0.677 1 -0.374 1 0 C 1 0.374 0.552 0.677 0 0.677 C -0.552 0.677 -1 0.374 -1 0 Z", "size": 14400, "angle": 31, "filled": false, "opacity": 1, "stroke": "#B5504D", "strokeWidth": 2.5},
          "encoding": {"x": {"datum": 1.459}, "y": {"datum": 1.372}}
        },
        {
          "data": {"values": [{}]},
          "mark": {"type": "rule", "strokeWidth": 6, "color": "#C0504D"},
          "encoding": {"x": {"datum": 0.415}, "y": {"datum": 2.615}, "x2": {"datum": 0.907}, "y2": {"datum": 2.029}}
        },
        {
          "data": {"values": [{}]},
          "mark": {"type": "point", "shape": "M 1 0 L -1 -1.1 L -1 1.1 Z", "size": 324, "angle": 38.5, "filled": true, "opacity": 1, "fill": "#C0504D", "strokeWidth": 0},
          "encoding": {"x": {"datum": 0.98}, "y": {"datum": 1.943}}
        },
        {
          "data": {"values": [{}]},
          "mark": {"type": "rect", "fill": "white", "stroke": "#C0504D", "strokeWidth": 2.5},
          "encoding": {"x": {"datum": -0.374}, "x2": {"datum": 2.558}, "y": {"datum": 3.129}, "y2": {"datum": 2.591}}
        },
        {
          "data": {"values": [{"t": "GBM"}]},
          "mark": {"type": "text", "align": "left", "baseline": "middle", "fontSize": 19.5, "fontWeight": "bold", "font": "Noto Sans CJK JP", "color": "#FF0000"},
          "encoding": {"x": {"datum": -0.272}, "y": {"datum": 2.846}, "text": {"field": "t"}}
        },
        {
          "data": {"values": [{"t": "を含む脳腫瘍患者を検出"}]},
          "mark": {"type": "text", "align": "left", "baseline": "middle", "fontSize": 19.5, "fontWeight": "bold", "font": "Noto Sans CJK JP", "color": "black"},
          "encoding": {"x": {"datum": 0.2}, "y": {"datum": 2.846}, "text": {"field": "t"}}
        },
        {
          "data": {"values": [{"t": "B"}]},
          "mark": {"type": "text", "align": "left", "baseline": "middle", "fontSize": 19, "fontWeight": "bold", "font": "Liberation Sans", "color": "black"},
          "encoding": {"x": {"datum": -1.831}, "y": {"datum": 2.877}, "text": {"field": "t"}}
        },
        {
          "data": {"values": [{"t": "健常人"}]},
          "mark": {"type": "text", "align": "left", "baseline": "middle", "fontSize": 14, "fontWeight": "bold", "font": "Noto Sans CJK JP", "color": "black"},
          "encoding": {"x": {"datum": 1.58}, "y": {"datum": -1.578}, "text": {"field": "t"}}
        },
        {
          "data": {"values": [{"t": "GBM"}]},
          "mark": {"type": "text", "align": "left", "baseline": "middle", "fontSize": 14, "fontWeight": "bold", "font": "Liberation Sans", "color": "black"},
          "encoding": {"x": {"datum": 1.742}, "y": {"datum": -2.605}, "text": {"field": "t"}}
        }
      ]
    }
  ],
  "columns": 2,
  "align": "none",
  "spacing": 11,
  "resolve": {"scale": {"color": "independent"}, "legend": {"color": "independent"}}
}
